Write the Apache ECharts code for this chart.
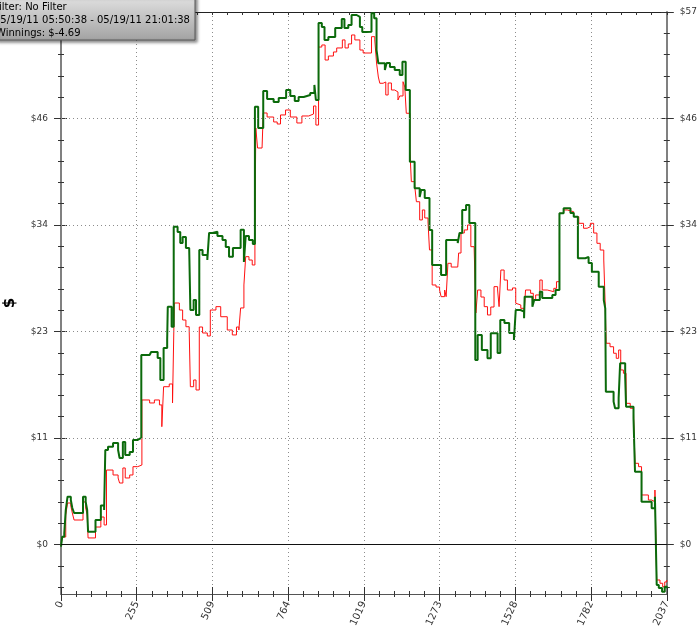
<!DOCTYPE html>
<html><head><meta charset="utf-8">
<script src="https://cdn.jsdelivr.net/npm/echarts@6/dist/echarts.min.js"></script>
<style>html,body{margin:0;padding:0;background:#fff}#c{width:700px;height:637px}</style>
</head><body><div id="c"></div>
<script>
// ---- data ----
const xMax = 2037;
const xLabelStep = 254.625;           // 0,255,509,764,1019,1273,1528,1782,2037
const yMin = -5.3, yMax = 57;
const yLabelValues = [0, 11.4, 22.8, 34.2, 45.6, 57];
const yGridValues = [11.4, 22.8, 34.2, 45.6];
const legendLines = ['Filter: No Filter', '05/19/11 05:50:38 - 05/19/11 21:01:38', 'Winnings: $-4.69'];
const yAxisTitle = '$';

// [hand index, $] green series (step)
const greenPoints = [
[0,-0.24],[4,0.83],[11,1.23],[16,3.69],[22,5.12],[33,4.76],[38,3.91],[44,3.37],[74,5.12],[83,4.55],[88,3.69],[91,1.37],
[116,2.62],[134,4.17],[145,3.69],[149,10.12],[158,10.47],[175,10.86],[192,10.12],[197,9.26],[208,10.97],[216,9.58],[231,9.90],
[242,11.19],[258,11.40],[270,20.28],[298,20.07],[303,20.60],[325,19.96],[334,17.60],[345,21.03],[357,21.89],[359,25.45],
[372,23.31],[379,34.02],[392,33.45],[401,32.27],[409,32.92],[420,31.74],[431,31.53],[435,25.10],[446,26.17],[454,24.57],
[465,31.53],[476,31.00],[492,30.46],[498,33.35],[509,33.48],[526,33.02],[543,32.59],[554,31.85],[565,30.81],[578,31.74],
[604,33.68],[615,30.24],[621,33.02],[632,32.59],[645,32.16],[652,46.86],[663,44.58],[680,48.54],[693,47.69],[715,47.37],
[732,47.79],[757,48.65],[771,48.01],[786,47.47],[799,47.90],[816,48.11],[838,48.33],[852,49.19],[857,47.58],[866,55.82],
[877,55.40],[886,54.01],[899,54.33],[922,55.29],[944,56.25],[953,55.29],[966,55.61],[977,56.68],[994,56.47],[1005,55.40],
[1013,54.86],[1027,54.89],[1044,56.86],[1053,56.33],[1061,52.93],[1067,51.51],[1089,50.79],[1095,51.54],[1106,51.11],
[1122,50.79],[1139,50.26],[1148,51.68],[1159,48.65],[1173,40.98],[1189,38.13],[1206,37.20],[1211,37.95],[1223,37.09],
[1239,33.67],[1248,29.92],[1278,28.85],[1295,32.59],[1334,32.27],[1340,33.35],[1349,35.81],[1362,36.34],[1373,34.42],
[1393,19.75],[1401,22.43],[1415,20.82],[1434,19.93],[1445,22.61],[1468,20.50],[1477,24.03],[1491,23.71],[1507,22.64],
[1523,21.89],[1529,25.10],[1545,24.92],[1557,24.21],[1559,26.53],[1585,25.45],[1591,26.17],[1610,27.06],[1618,26.39],
[1652,26.71],[1663,27.24],[1676,35.45],[1690,35.99],[1713,35.49],[1724,35.09],[1738,30.64],[1763,30.78],[1774,30.13],
[1785,29.20],[1808,27.60],[1825,26.17],[1830,25.28],[1832,16.36],[1858,15.29],[1863,14.58],[1875,15.68],[1880,19.40],
[1897,17.96],[1900,14.75],[1925,13.51],[1930,7.79],[1952,4.58],[1986,3.87],[1997,5.12],[2003,-4.34],[2010,-4.66],
[2021,-5.05],[2030,-4.52],[2037,-4.69]
];

// [hand index, $] red series (step)
const redPoints = [
[0,-0.16],[4,0.80],[16,3.16],[22,4.44],[33,4.12],[38,3.37],[44,2.62],[74,4.55],[83,3.91],[88,3.16],[91,0.70],[116,1.87],
[134,2.94],[145,2.09],[153,7.97],[175,7.44],[192,7.12],[197,6.58],[208,8.19],[216,7.12],[231,7.44],[242,8.33],[258,8.51],
[272,15.47],[298,15.15],[314,15.47],[331,14.94],[339,12.61],[345,16.89],[364,17.18],[375,15.15],[381,25.85],[398,25.10],
[409,24.03],[420,23.31],[431,22.96],[435,16.89],[446,17.61],[454,16.54],[465,23.28],[476,22.64],[492,22.32],[502,25.10],
[521,25.46],[537,24.38],[559,22.96],[576,22.43],[590,23.28],[598,22.96],[604,25.32],[615,27.78],[621,30.81],[632,30.45],
[643,29.92],[652,32.95],[655,44.58],[661,42.44],[676,42.23],[680,46.19],[693,45.76],[715,45.23],[727,45.01],[738,45.98],
[755,46.51],[771,45.76],[793,45.12],[810,45.87],[833,46.08],[849,46.94],[857,44.90],[866,53.25],[877,53.47],[888,51.86],
[899,52.29],[916,52.72],[927,53.15],[946,54.01],[955,53.15],[966,53.58],[977,54.54],[988,54.01],[1005,52.93],[1016,52.61],
[1044,54.36],[1055,54.01],[1061,51.54],[1067,50.04],[1072,49.37],[1083,49.51],[1092,48.12],[1100,49.40],[1111,48.65],
[1122,48.44],[1133,47.58],[1139,48.01],[1150,49.54],[1156,48.97],[1161,46.16],[1173,42.23],[1178,38.84],[1189,38.48],
[1195,36.69],[1206,34.74],[1215,35.81],[1223,34.95],[1234,34.52],[1239,31.53],[1248,27.78],[1261,27.56],[1273,27.24],
[1278,26.53],[1290,27.24],[1295,26.53],[1301,30.10],[1312,29.70],[1334,29.81],[1337,31.20],[1345,33.34],[1356,33.67],
[1367,34.20],[1378,31.88],[1389,31.74],[1395,24.78],[1401,27.24],[1412,26.49],[1423,25.46],[1434,24.57],[1445,25.42],
[1456,27.60],[1468,27.24],[1473,25.46],[1479,29.38],[1490,28.31],[1501,27.24],[1518,27.46],[1529,25.82],[1535,25.64],
[1546,25.28],[1557,24.75],[1562,27.24],[1579,26.89],[1588,26.17],[1596,26.71],[1610,28.31],[1618,27.24],[1635,27.06],
[1657,27.42],[1666,28.13],[1676,35.45],[1690,35.81],[1702,35.62],[1724,35.09],[1741,34.38],[1757,33.85],[1769,34.02],
[1780,34.38],[1791,33.34],[1802,32.24],[1813,31.52],[1825,30.45],[1830,25.46],[1833,21.54],[1846,21.17],[1858,20.47],
[1867,19.93],[1875,20.82],[1882,18.68],[1891,18.33],[1900,15.11],[1914,14.58],[1925,14.04],[1930,8.69],[1942,8.33],
[1952,5.30],[1975,4.76],[1986,4.58],[1997,5.83],[2003,-3.80],[2014,-4.15],[2023,-4.52],[2030,-4.01],[2037,-3.80]
];

// ---- chart ----
const FONT = '"DejaVu Sans", Verdana, sans-serif';
const yStep = yLabelValues[1] - yLabelValues[0];
const yMinorValues = [];
for (let k = Math.ceil(yMin / (yStep / 5)); k * yStep / 5 <= yMax + 1e-9; k++) {
  if (k % 5 !== 0) yMinorValues.push(+(k * yStep / 5).toFixed(4));
}

function yAx(pos, opt) {
  return Object.assign({
    type: 'value', min: yMin, max: yMax, position: pos, gridIndex: 0,
    axisLine: { show: false, onZero: false }, splitLine: { show: false },
    axisLabel: { show: false }, axisTick: { show: false }
  }, opt);
}
const tickStyle = { color: '#333', width: 1 };
function tickAxis(pos, values, len, inside) {
  return yAx(pos, { axisTick: { show: true, customValues: values, length: len, inside: inside, lineStyle: tickStyle } });
}
const yLine = { show: true, onZero: false, lineStyle: { color: '#808080', width: 2 } };

const yAxes = [
  yAx('left', {
    axisLine: yLine,
    axisTick: { show: true, customValues: yLabelValues, length: 7, lineStyle: tickStyle },
    axisLabel: { show: true, customValues: yLabelValues, margin: 13, color: '#333', fontSize: 9, fontFamily: FONT,
      formatter: v => '$' + Math.round(v) }
  }),
  yAx('right', {
    axisLine: yLine,
    axisTick: { show: true, customValues: yLabelValues, length: 7, lineStyle: tickStyle },
    axisLabel: { show: true, customValues: yLabelValues, margin: 13, color: '#333', fontSize: 9, fontFamily: FONT,
      formatter: v => '$' + Math.round(v) }
  }),
  tickAxis('left', yLabelValues, 6, true),
  tickAxis('right', yLabelValues, 6, true),
  tickAxis('left', yMinorValues, 3, false),
  tickAxis('left', yMinorValues, 3, true),
  tickAxis('right', yMinorValues, 3, false),
  tickAxis('right', yMinorValues, 3, true)
];

function xAx(pos, opt) {
  return Object.assign({
    type: 'value', min: 0, max: xMax, interval: xLabelStep, position: pos, gridIndex: 0,
    axisLine: { show: false, onZero: false }, splitLine: { show: false }, axisLabel: { show: false },
    axisTick: { show: false }, minorTick: { show: false }
  }, opt);
}
const xAxes = [
  xAx('bottom', {
    axisLine: { show: true, onZero: false, lineStyle: { color: '#555', width: 1 } },
    axisTick: { show: true, length: 7, lineStyle: tickStyle },
    minorTick: { show: true, splitNumber: 5, length: 3, lineStyle: tickStyle },
    splitLine: { show: true, lineStyle: { color: '#8c8c8c', type: [1, 3], width: 1 } },
    axisLabel: { show: true, rotate: 65, margin: 8, color: '#333', fontSize: 10, fontFamily: FONT,
      formatter: v => String(Math.round(v)) }
  }),
  xAx('bottom', {
    axisTick: { show: true, inside: true, length: 7, lineStyle: tickStyle },
    minorTick: { show: true, splitNumber: 5, length: 3, lineStyle: tickStyle }
  }),
  xAx('top', {
    axisLine: { show: true, onZero: false, lineStyle: { color: '#222', width: 1 } },
    axisTick: { show: true, inside: true, length: 3, lineStyle: tickStyle },
    minorTick: { show: true, splitNumber: 5, length: 3, lineStyle: tickStyle }
  })
];

const chart = echarts.init(document.getElementById('c'), null, { renderer: 'canvas' });
chart.setOption({
  animation: false,
  backgroundColor: '#fff',
  grid: { left: 61, right: 29.5, top: 12, bottom: 43, containLabel: false },
  xAxis: xAxes,
  yAxis: yAxes,
  series: [
    {
      type: 'line', name: 'red', data: redPoints, step: 'end', showSymbol: false, symbol: 'none',
      lineStyle: { color: '#ff1010', width: 1 }, z: 3,
      markLine: {
        silent: true, symbol: 'none', label: { show: false }, animation: false,
        data: yGridValues.map(v => ({ yAxis: v, lineStyle: { color: '#8c8c8c', type: [1, 3], width: 1 } }))
          .concat([{ yAxis: 0, lineStyle: { color: '#111', type: 'solid', width: 1 } }])
      }
    },
    {
      type: 'line', name: 'green', data: greenPoints, step: 'end', showSymbol: false, symbol: 'none',
      lineStyle: { color: '#0b6a0b', width: 2 }, z: 4
    }
  ],
  graphic: [
    { type: 'text', x: 10, y: 303, rotation: Math.PI / 2, z: 50,
      style: { text: yAxisTitle, font: 'bold 15px ' + FONT, fill: '#000', align: 'center', verticalAlign: 'middle' } },
    { type: 'rect', z: 100, shape: { x: -4, y: -4, width: 199, height: 44 },
      style: {
        fill: new echarts.graphic.LinearGradient(0, 0, 0, 1, [
          { offset: 0, color: '#e2e2e2' }, { offset: 1, color: '#a2a2a2' }]),
        stroke: '#5a5a5a', lineWidth: 1,
        shadowBlur: 3, shadowOffsetX: 2, shadowOffsetY: 2, shadowColor: 'rgba(0,0,0,0.45)'
      } },
    { type: 'text', z: 101, x: -6, y: 7, style: { text: legendLines[0], font: '10px ' + FONT, fill: '#000', verticalAlign: 'middle' } },
    { type: 'text', z: 101, x: -6, y: 20, style: { text: legendLines[1], font: '10px ' + FONT, fill: '#000', verticalAlign: 'middle' } },
    { type: 'text', z: 101, x: -4, y: 33, style: { text: legendLines[2], font: '10px ' + FONT, fill: '#000', verticalAlign: 'middle' } }
  ]
});
</script>
</body></html>
